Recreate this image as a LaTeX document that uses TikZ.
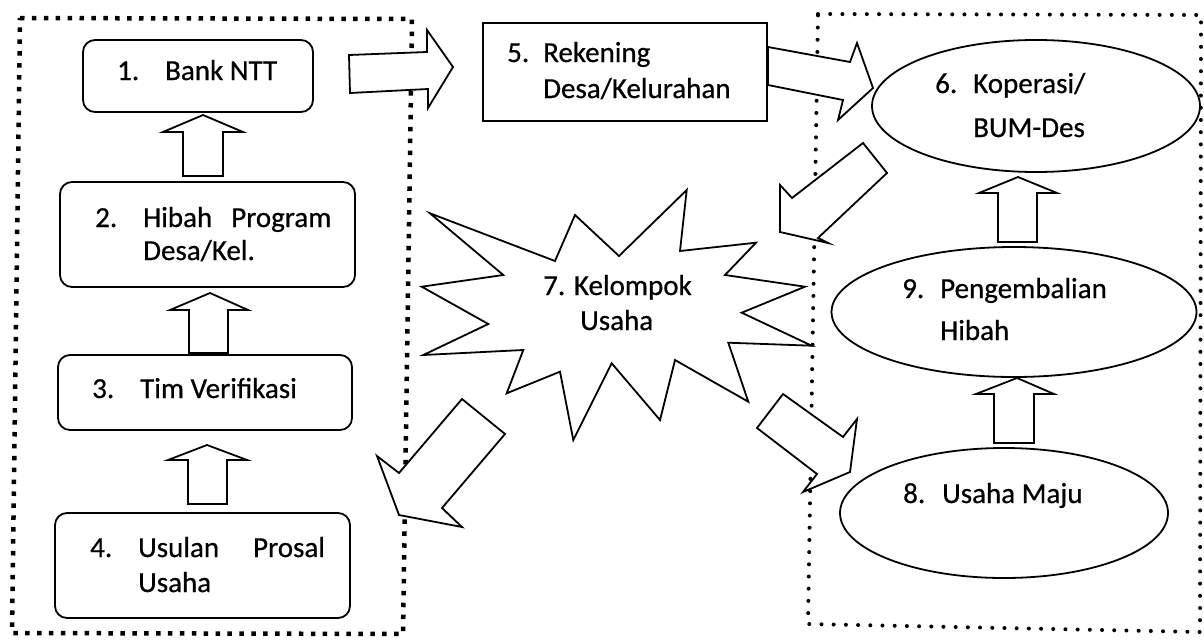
\documentclass[tikz,border=0pt]{standalone}
\usepackage{fontspec}
\setmainfont[FakeBold=0.6,AutoFakeBold=0.6]{Carlito}
\usetikzlibrary{shapes.geometric}
\begin{document}
\begin{tikzpicture}[x=1pt,y=-1pt,
  rbox/.style={draw, line width=1.8pt, rounded corners=12pt, fill=white, inner sep=0pt},
  sbox/.style={draw, line width=1.8pt, fill=white, inner sep=0pt},
  ell/.style={draw, ellipse, line width=1.8pt, fill=white, inner sep=0pt},
  lbl/.style={anchor=base west, inner sep=0pt, font=\fontsize{29}{35}\selectfont\bfseries},
  barrow/.style={draw, fill=white, line width=1.8pt, line join=miter},
  sqdots/.style={line width=4.5pt, dash pattern=on 4.5pt off 7.4pt},
  rdots/.style={line width=4pt, line cap=round, dash pattern=on 0pt off 12.2pt}]
\useasboundingbox (0,0) rectangle (1204,643);
\fill[white] (0,0) rectangle (1204,643);

% dotted frames
\coordinate (L1) at (20,18);
\coordinate (L2) at (412,19);
\coordinate (L3) at (403,634);
\coordinate (L4) at (12,633);
\draw[sqdots] (L1) -- (L2) -- (L3) -- (L4) -- cycle;
\coordinate (R1) at (818,14);
\coordinate (R2) at (1201,15);
\coordinate (R3) at (1200,632);
\coordinate (R4) at (808,624);
\draw[rdots] (R1) -- (R2) -- (R3) -- (R4) -- cycle;

% boxes
\node[rbox, minimum width=230pt, minimum height=72pt] (b1) at (198,76) {};
\node[rbox, minimum width=295pt, minimum height=105pt] (b2) at (207.5,234.5) {};
\node[rbox, minimum width=294pt, minimum height=75pt] (b3) at (205,392.5) {};
\node[rbox, minimum width=295pt, minimum height=105pt] (b4) at (202.5,565.5) {};
\node[sbox, minimum width=284pt, minimum height=98pt] (b5) at (625,72) {};
\node[ell, minimum width=328pt, minimum height=132pt] (e6) at (1036,106) {};
\node[ell, minimum width=365pt, minimum height=130pt] (e9) at (1014,312) {};
\node[ell, minimum width=328pt, minimum height=130pt] (e8) at (1004,513) {};

% star (7)
\draw[barrow] (430,213.3) -- (503.3,275) -- (421.7,286.7) -- (488.3,324) -- (423.3,355)
  -- (523.3,350) -- (506.7,393.3) -- (560,371.7) -- (573.3,440) -- (611.7,363.3)
  -- (660,420) -- (675,360) -- (748.3,401.7) -- (728.3,342.7) -- (811.7,345.7)
  -- (741.7,312.7) -- (805,286.7) -- (725,275) -- (756,242.7) -- (680,251)
  -- (686.7,190) -- (619,256) -- (575,215) -- (555,261) -- cycle;

% block arrows
\draw[barrow] (183,176) -- (183,132) -- (163,132) -- (203,115) -- (243,132) -- (223,132) -- (223,176) -- cycle;
\draw[barrow] (189,353) -- (189,310) -- (170,310) -- (210,293) -- (248,310) -- (228,310) -- (228,353) -- cycle;
\draw[barrow] (188,504) -- (188,460) -- (168,460) -- (207,445) -- (247,460) -- (227,460) -- (227,504) -- cycle;
\draw[barrow] (349,55) -- (427,52) -- (427,30) -- (453,67) -- (428,108) -- (428,89) -- (350,93) -- cycle;
\draw[barrow] (768,47) -- (850,62) -- (857,43) -- (873,88) -- (838,120) -- (843,100) -- (768,85) -- cycle;
\draw[barrow] (863,143) -- (887,173) -- (818,238) -- (828,243) -- (780,232) -- (780,185) -- (792,198) -- cycle;
\draw[barrow] (462,399) -- (505,434) -- (442,508) -- (462,527) -- (399,515) -- (377,456) -- (399,473) -- cycle;
\draw[barrow] (783,394) -- (843,437) -- (857,419) -- (850,472) -- (803,492) -- (817,474) -- (757,428) -- cycle;
\draw[barrow] (998,242) -- (998,193) -- (979,193) -- (1018,177) -- (1057,193) -- (1037,193) -- (1037,242) -- cycle;
\draw[barrow] (994,443) -- (994,394) -- (976,394) -- (1017,378) -- (1054,394) -- (1034,394) -- (1034,443) -- cycle;

% labels
\node[lbl] (t1) at (117,80) {\makebox[48pt][l]{1.}Bank NTT};
\node[lbl] (t2a) at (95,227) {\makebox[48pt][l]{2.}Hibah\hspace{19pt}Program};
\node[lbl] (t2b) at (143,260) {Desa/Kel.};
\node[lbl] (t3) at (92,398) {\makebox[48pt][l]{3.}Tim Verifikasi};
\node[lbl] (t4a) at (90,557) {\makebox[48pt][l]{4.}Usulan\hspace{34pt}Prosal};
\node[lbl] (t4b) at (138,592) {Usaha};
\node[lbl] (t5a) at (507,62) {\makebox[36pt][l]{5.}Rekening};
\node[lbl] (t5b) at (543,98) {Desa/Kelurahan};
\node[lbl] (t6a) at (935,93) {\makebox[38pt][l]{6.}Koperasi/};
\node[lbl] (t6b) at (973,137) {BUM-Des};
\node[lbl] (t7a) at (543,295) {7. Kelompok};
\node[lbl] (t7b) at (580,330) {Usaha};
\node[lbl] (t9a) at (902,298) {\makebox[38pt][l]{9.}Pengembalian};
\node[lbl] (t9b) at (940,340) {Hibah};
\node[lbl] (t8) at (903,503) {\makebox[39pt][l]{8.}Usaha Maju};
\end{tikzpicture}
\end{document}
